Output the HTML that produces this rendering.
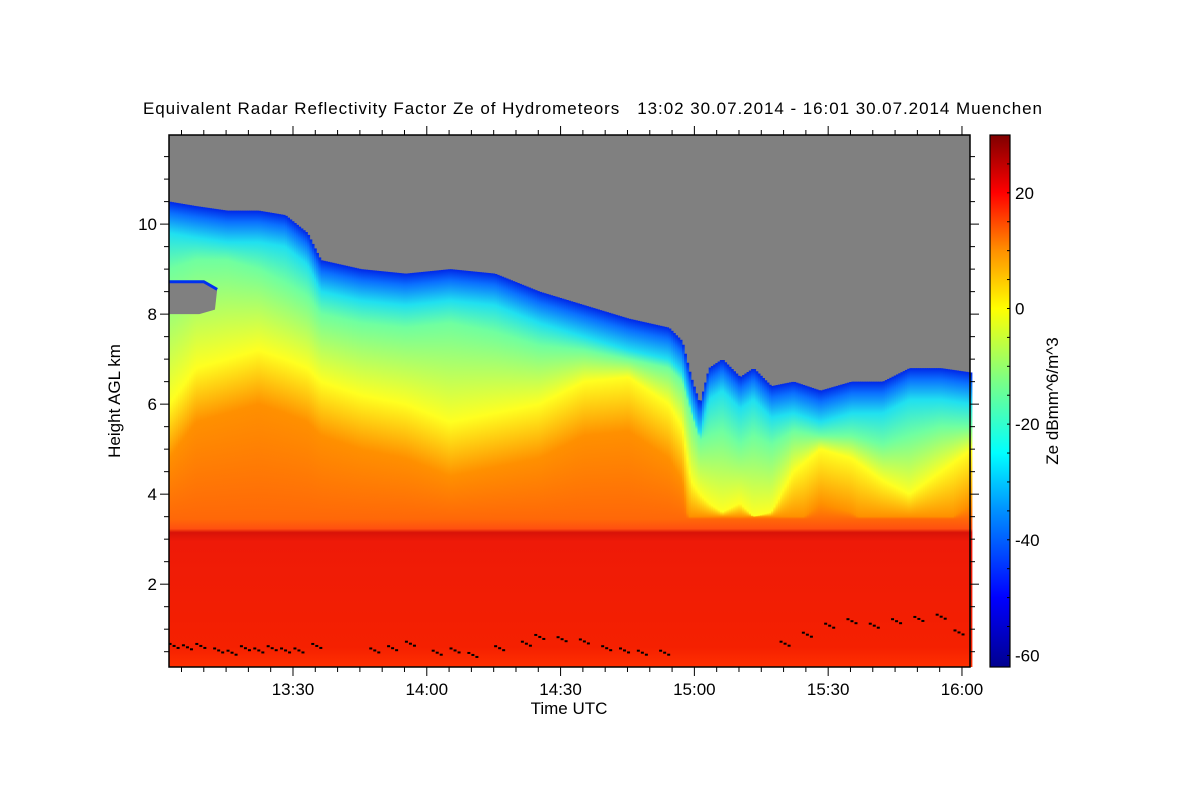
<!DOCTYPE html>
<html><head><meta charset="utf-8"><style>
body{margin:0;background:#fff;}
svg{display:block;font-family:"Liberation Sans",sans-serif;}
</style></head><body>
<svg id="chart" width="1200" height="800">
<text x="143" y="114" font-size="17" textLength="899" lengthAdjust="spacing" xml:space="preserve">Equivalent Radar Reflectivity Factor Ze of Hydrometeors   13:02 30.07.2014 - 16:01 30.07.2014 Muenchen</text>
<g id="plot"></g>
<g id="axes"></g>
<text x="569" y="714" font-size="17" text-anchor="middle">Time UTC</text>
<text transform="translate(120,401) rotate(-90)" font-size="17" text-anchor="middle">Height AGL km</text>
<text transform="translate(1058,401) rotate(-90)" font-size="17" text-anchor="middle">Ze dBmm^6/m^3</text>
</svg>
<script>
// Data (time in minutes after 13:00; heights in km)
const times   = [2,8,15,22,28,33,36,45,55,65,75,85,95,105,114,117,119,121,123,126,130,133,137,142,148,155,162,168,175,182];
const cloudTop= [10.5,10.4,10.3,10.3,10.2,9.8,9.2,9.0,8.9,9.0,8.9,8.5,8.2,7.9,7.7,7.4,6.6,6.0,6.8,7.0,6.6,6.8,6.4,6.5,6.3,6.5,6.5,6.8,6.8,6.7];
const cyanH   = [9.0,9.2,9.2,9.0,8.7,8.4,8.0,7.8,7.7,7.8,7.6,7.3,7.2,7.0,6.8,6.5,5.8,5.2,5.3,5.4,5.1,5.3,5.1,5.4,5.3,5.3,5.1,5.3,5.5,5.5];
const yellowH = [6.0,6.8,7.0,7.2,7.0,6.8,6.5,6.2,6.0,5.6,5.8,6.0,6.5,6.6,6.0,5.5,4.3,4.0,3.8,3.6,3.8,3.5,3.6,4.5,5.0,4.8,4.3,4.0,4.5,5.0];
const meltH = 3.15;
const blTimes = [3,6,9,13,16,19,22,25,28,31,35,48,52,56,62,66,70,76,82,85,90,95,100,104,108,113,140,145,150,155,160,165,170,175,179];
const blH     = [0.65,0.62,0.65,0.55,0.5,0.6,0.55,0.6,0.55,0.55,0.65,0.55,0.6,0.7,0.5,0.55,0.45,0.6,0.7,0.85,0.8,0.75,0.6,0.55,0.5,0.5,0.7,0.9,1.1,1.2,1.1,1.2,1.25,1.3,0.95];
const xTickLabels = ["13:30","14:00","14:30","15:00","15:30","16:00"];
const xTickMins   = [30,60,90,120,150,180];
const yTickLabels = ["2","4","6","8","10"];
const yTickVals   = [2,4,6,8,10];
const cbTickLabels= ["20","0","-20","-40","-60"];
const cbTickVals  = [20,0,-20,-40,-60];

const L=169,R=970,T=135,B=667;
const t0=2.2,t1=181.8,h0=0.16,h1=11.98;
const X=m=>L+(m-t0)/(t1-t0)*(R-L);
const Y=h=>B-(h-h0)/(h1-h0)*(B-T);
const cbT=135,cbB=667,cbMin=-62,cbMax=30;
const CY=v=>cbB-(v-cbMin)/(cbMax-cbMin)*(cbB-cbT);
const NS="http://www.w3.org/2000/svg";
const svg=document.getElementById('chart');
const plot=document.getElementById('plot');
const axes=document.getElementById('axes');
function mk(tag,at,parent){const e=document.createElementNS(NS,tag);for(const k in at)e.setAttribute(k,at[k]);(parent||svg).appendChild(e);return e;}
function interp(arr,m){if(m<=times[0])return arr[0];for(let i=1;i<times.length;i++){if(m<=times[i]){const f=(m-times[i-1])/(times[i]-times[i-1]);return arr[i-1]+f*(arr[i]-arr[i-1]);}}return arr[arr.length-1];}

const defs=mk('defs',{});
const bg=mk('rect',{x:L,y:T,width:R-L,height:B-T,fill:'#808080'},plot);



const cols=mk('g',{},plot);


const step=0.5;
let idx=0;
for(let m=t0;m<t1;m+=step){
  const top=interp(cloudTop,m),cy=interp(cyanH,m),yl=interp(yellowH,m);
  const g=mk('linearGradient',{id:'g'+idx,x1:0,y1:Y(top),x2:0,y2:B,gradientUnits:'userSpaceOnUse'},defs);
  const span=B-Y(top);
  const off=h=>Math.max(0,Math.min(1,(Y(h)-Y(top))/span));
  const orH=Math.max(3.5,yl-1.2);
  const stops=[[top,'#0028e8'],[top-0.25,'#0a70ff'],[top-0.7,'#20e0f0'],[cy,'#70ffa0'],[yl,'#ffff20'],[orH,'#ff9000'],[meltH+0.3,'#ff6808'],[meltH+0.08,'#ff5010'],[meltH,'#d81208'],[meltH-0.2,'#ee1a08'],[0.6,'#f52000'],[h0,'#ff3000']];
  stops.forEach(s=>mk('stop',{offset:off(s[0]),'stop-color':s[1]},g));
  const r=mk('rect',{x:X(m).toFixed(2),y:Y(top).toFixed(2),width:(X(m+step)-X(m)+0.6).toFixed(2),height:(B-Y(top)).toFixed(2),fill:'url(#g'+idx+')'},cols);
  
  
  idx++;
}
// gray notch at left
const notch=mk('polygon',{points:`${L},${Y(8.72)} ${X(10)},${Y(8.72)} ${X(13)},${Y(8.55)} ${X(12.5)},${Y(8.1)} ${X(9)},${Y(8.0)} ${L},${Y(8.0)}`,fill:'#808080'},plot);


const notchEdge=mk('polyline',{points:`${L},${Y(8.72)} ${X(10)},${Y(8.72)} ${X(13)},${Y(8.55)}`,fill:'none',stroke:'#0030f0','stroke-width':3},plot);


// boundary layer dots
const bl=mk('g',{},plot);


blTimes.forEach((m,i)=>{for(let k=-1;k<=1;k++){const d=mk('rect',{x:X(m+k*0.9),y:Y(blH[i])+(k%2)*2,width:3,height:2,fill:'#000'},bl);}});

// frame
const fr=mk('rect',{x:L,y:T,width:R-L,height:B-T,fill:'none',stroke:'#000','stroke-width':1.5},axes);


for(let m=5;m<=180;m+=5){
  const maj=m%30===0,x=X(m),len=maj?9:5;
  mk('line',{x1:x,y1:B,x2:x,y2:B+len,stroke:'#000'},axes);
  mk('line',{x1:x,y1:T,x2:x,y2:T-len,stroke:'#000'},axes);
}
xTickMins.forEach((m,i)=>{const t=mk('text',{x:X(m),y:695,'font-size':17,'text-anchor':'middle'},axes);t.textContent=xTickLabels[i];});
for(let h=0.5;h<=11.5;h+=0.5){
  const maj=h%2===0,y=Y(h),len=maj?9:5;
  mk('line',{x1:L,y1:y,x2:L-len,y2:y,stroke:'#000'},axes);
  mk('line',{x1:R,y1:y,x2:R+len,y2:y,stroke:'#000'},axes);
}
yTickVals.forEach((v,i)=>{const t=mk('text',{x:157,y:Y(v)+6,'font-size':17,'text-anchor':'end'},axes);t.textContent=yTickLabels[i];});
// colorbar
const cg=mk('linearGradient',{id:'cbg',x1:0,y1:1,x2:0,y2:0},defs);
const cstops=[[-62,'#00008f'],[-50,'#0000ff'],[-35,'#0090ff'],[-25,'#00ffff'],[-12,'#80ff80'],[0,'#ffff00'],[10,'#ff9000'],[20,'#ff0000'],[30,'#800000']];
cstops.forEach(s=>mk('stop',{offset:(s[0]-cbMin)/(cbMax-cbMin),'stop-color':s[1]},cg));
const cb=mk('rect',{x:990,y:cbT,width:20,height:cbB-cbT,fill:'url(#cbg)',stroke:'#000','stroke-width':1.2},axes);


for(let v=-60;v<=30;v+=5){const y=CY(v);mk('line',{x1:1007,y1:y,x2:1010,y2:y,stroke:'#000'},axes);}
cbTickVals.forEach((v,i)=>{const t=mk('text',{x:1015,y:CY(v)+6,'font-size':17},axes);t.textContent=cbTickLabels[i];});
</script>
</body></html>
